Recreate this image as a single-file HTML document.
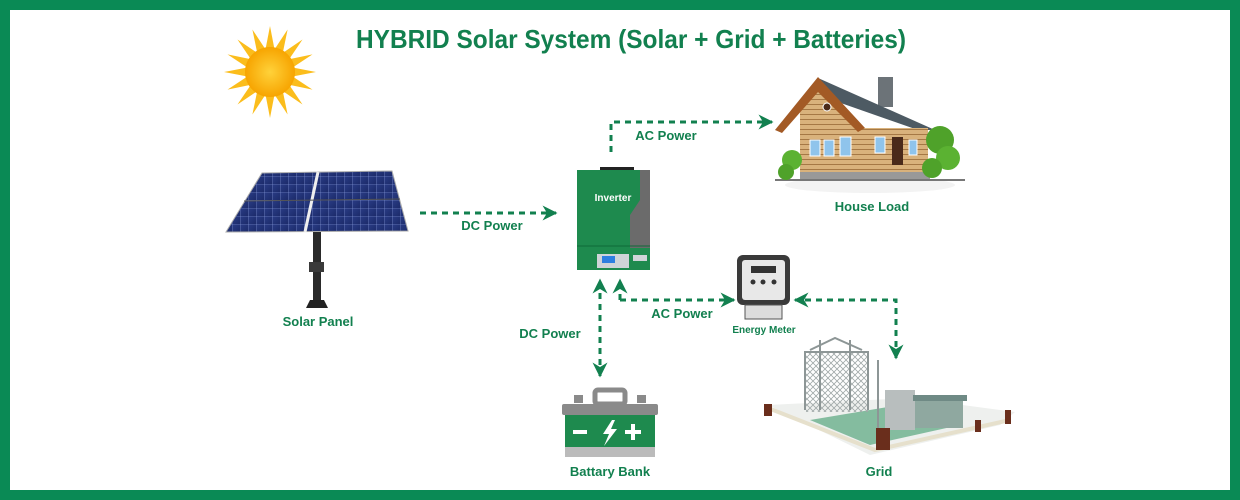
<!DOCTYPE html>
<html><head><meta charset="utf-8"><style>
html,body{margin:0;padding:0;background:#fff}
svg{display:block}
text{font-family:"Liberation Sans",sans-serif;font-weight:bold;fill:#12804f}
</style></head><body>
<svg width="1240" height="500" viewBox="0 0 1240 500" xmlns="http://www.w3.org/2000/svg">
<defs>
<marker id="ah" viewBox="0 0 10 10" refX="9" refY="5" markerWidth="5" markerHeight="5" orient="auto-start-reverse"><path d="M0,0 L10,5 L0,10 L3,5z" fill="#12804f"/></marker>
<radialGradient id="sun"><stop offset="0" stop-color="#ffd23a"/><stop offset="1" stop-color="#f7a400"/></radialGradient>
<linearGradient id="pv" x1="0" y1="0" x2="1" y2="1"><stop offset="0" stop-color="#2a3c86"/><stop offset="1" stop-color="#1c2b6a"/></linearGradient>
<pattern id="grid" width="8" height="8" patternUnits="userSpaceOnUse"><rect width="8" height="8" fill="url(#pv)"/><path d="M0,0H8M0,0V8" stroke="#8fa0d8" stroke-width="0.6"/></pattern>
<pattern id="wood" width="6" height="5" patternUnits="userSpaceOnUse"><rect width="6" height="5" fill="#d9b27c"/><path d="M0,4.5H6" stroke="#a57845" stroke-width="1"/></pattern>
<pattern id="lat" width="6" height="6" patternUnits="userSpaceOnUse"><path d="M0,0L6,6M6,0L0,6" stroke="#a0a8a8" stroke-width="0.8"/></pattern>
</defs>
<rect x="0" y="0" width="1240" height="500" fill="#0a8a55"/>
<rect x="10" y="10" width="1220" height="480" fill="#fff"/>
<text x="356" y="48" font-size="26" textLength="550" lengthAdjust="spacingAndGlyphs">HYBRID Solar System (Solar + Grid + Batteries)</text>

<!-- sun -->
<g transform="translate(270,72)">
<g fill="#fbbd1c">
<polygon points="0,-46 5,-20 -5,-20"/><polygon points="0,46 5,20 -5,20"/><polygon points="-46,0 -20,5 -20,-5"/><polygon points="46,0 20,5 20,-5"/>
<polygon points="0,-46 5,-20 -5,-20" transform="rotate(22.5)"/><polygon points="0,-46 5,-20 -5,-20" transform="rotate(45)"/><polygon points="0,-46 5,-20 -5,-20" transform="rotate(67.5)"/><polygon points="0,-46 5,-20 -5,-20" transform="rotate(112.5)"/><polygon points="0,-46 5,-20 -5,-20" transform="rotate(135)"/><polygon points="0,-46 5,-20 -5,-20" transform="rotate(157.5)"/><polygon points="0,-46 5,-20 -5,-20" transform="rotate(202.5)"/><polygon points="0,-46 5,-20 -5,-20" transform="rotate(225)"/><polygon points="0,-46 5,-20 -5,-20" transform="rotate(247.5)"/><polygon points="0,-46 5,-20 -5,-20" transform="rotate(292.5)"/><polygon points="0,-46 5,-20 -5,-20" transform="rotate(315)"/><polygon points="0,-46 5,-20 -5,-20" transform="rotate(337.5)"/>
</g>
<circle r="25" fill="url(#sun)"/>
</g>

<!-- solar panel -->
<rect x="313" y="232" width="8" height="72" fill="#2a2a2a"/>
<rect x="309" y="262" width="15" height="10" fill="#3a3a3a"/>
<polygon points="306,308 328,308 324,300 310,300" fill="#222"/>
<polygon points="226,232 262,173 392,171 408,231" fill="url(#grid)" stroke="#aaa" stroke-width="1"/>
<line x1="318" y1="172" x2="305" y2="232" stroke="#eee" stroke-width="3"/>
<line x1="244" y1="201" x2="400" y2="199" stroke="#555" stroke-width="1"/>
<text x="318" y="326" font-size="13" text-anchor="middle">Solar Panel</text>

<!-- inverter -->
<rect x="600" y="167" width="34" height="3" fill="#222"/>
<rect x="577" y="170" width="73" height="100" fill="#1e8a4e"/>
<polygon points="650,170 650,248 630,248 630,215 640,200 640,170" fill="#6b6b6b"/>
<line x1="577" y1="246" x2="650" y2="246" stroke="#0f6a38" stroke-width="1"/>
<rect x="597" y="254" width="32" height="14" fill="#cfd4d8"/>
<rect x="602" y="256" width="13" height="7" fill="#2d7fe0"/>
<rect x="633" y="255" width="14" height="6" fill="#cfd4d8"/>
<text x="613" y="201" font-size="10" text-anchor="middle" style="fill:#fff">Inverter</text>

<!-- house -->
<g>
<ellipse cx="870" cy="185" rx="85" ry="8" fill="#f3f3f3"/>
<rect x="878" y="77" width="15" height="30" fill="#6c7378"/>
<polygon points="818,78 935,130 918,130 818,95" fill="#4d5a63"/>
<polygon points="858,128 928,128 928,172 858,172" fill="url(#wood)"/>
<polygon points="800,108 818,90 860,128 860,172 800,172" fill="url(#wood)"/>
<polygon points="775,130 818,77 865,128 858,132 818,92 782,133" fill="#a35a25"/>
<rect x="800" y="172" width="130" height="7" fill="#999"/>
<line x1="775" y1="180" x2="965" y2="180" stroke="#777" stroke-width="2"/>
<rect x="810" y="140" width="10" height="16" fill="#8fc4ec" stroke="#fff"/>
<rect x="824" y="140" width="10" height="16" fill="#8fc4ec" stroke="#fff"/>
<rect x="840" y="137" width="11" height="19" fill="#8fc4ec" stroke="#fff"/>
<rect x="875" y="137" width="10" height="16" fill="#8fc4ec" stroke="#fff"/>
<rect x="892" y="137" width="11" height="28" fill="#4a2a1a"/>
<rect x="909" y="140" width="8" height="15" fill="#8fc4ec" stroke="#fff"/>
<circle cx="827" cy="107" r="4" fill="#4a2a1a" stroke="#fff"/>
<circle cx="940" cy="140" r="14" fill="#4fa22a"/><circle cx="948" cy="158" r="12" fill="#5bb232"/><circle cx="932" cy="168" r="10" fill="#4fa22a"/>
<circle cx="792" cy="160" r="10" fill="#5bb232"/><circle cx="786" cy="172" r="8" fill="#4fa22a"/>
</g>
<text x="872" y="211" font-size="13" text-anchor="middle">House Load</text>

<!-- meter -->
<rect x="737" y="255" width="53" height="50" rx="6" fill="#3a3a3a"/>
<rect x="742" y="260" width="43" height="40" rx="3" fill="#e8e8e8"/>
<rect x="751" y="266" width="25" height="7" fill="#333"/>
<circle cx="753" cy="282" r="2.5" fill="#333"/><circle cx="763" cy="282" r="2.5" fill="#333"/><circle cx="774" cy="282" r="2.5" fill="#333"/>
<rect x="745" y="305" width="37" height="14" fill="#ddd" stroke="#555"/>
<text x="764" y="333" font-size="10" text-anchor="middle">Energy Meter</text>

<!-- battery -->
<rect x="595" y="390" width="30" height="14" rx="3" fill="none" stroke="#8a8a8a" stroke-width="5"/>
<rect x="574" y="395" width="9" height="8" fill="#8a8a8a"/><rect x="637" y="395" width="9" height="8" fill="#8a8a8a"/>
<rect x="562" y="404" width="96" height="11" rx="2" fill="#8a8a8a"/>
<rect x="565" y="415" width="90" height="42" fill="#1e8a4e"/>
<rect x="565" y="447" width="90" height="10" fill="#bbb"/>
<rect x="573" y="430" width="14" height="4" fill="#fff"/>
<rect x="625" y="430" width="16" height="4" fill="#fff"/><rect x="631" y="424" width="4" height="16" fill="#fff"/>
<polygon points="612,420 603,434 609,434 604,446 617,429 611,429 615,420" fill="#fff"/>
<text x="610" y="476" font-size="13" text-anchor="middle">Battary Bank</text>

<!-- grid -->
<g>
<polygon points="768,405 870,455 1000,425 1015,412 910,398" fill="#eef0ee"/>
<polygon points="810,420 870,445 960,425 900,405" fill="#3e9a6a" opacity="0.6"/>
<rect x="806" y="352" width="62" height="60" fill="url(#lat)"/>
<g stroke="#8d9696" stroke-width="2" fill="none">
<path d="M805,410 V352 H868 V410 M810,350 L835,338 L862,350 M820,340 V410 M850,340 V410 M878,360 V430"/>
</g>
<rect x="885" y="390" width="30" height="40" fill="#b8bebe"/>
<rect x="915" y="398" width="48" height="30" fill="#8fa8a0"/>
<rect x="913" y="395" width="54" height="6" fill="#6f8a85"/>
<polyline points="768,408 875,450 1010,420" fill="none" stroke="#e6e0cc" stroke-width="4"/>
<rect x="876" y="428" width="14" height="22" fill="#6a2e1c"/>
<rect x="764" y="404" width="8" height="12" fill="#6a2e1c"/>
<rect x="975" y="420" width="6" height="12" fill="#6a2e1c"/>
<rect x="1005" y="410" width="6" height="14" fill="#6a2e1c"/>
</g>
<text x="879" y="476" font-size="13" text-anchor="middle">Grid</text>

<!-- connectors -->
<g stroke="#12804f" stroke-width="3" stroke-dasharray="6,5" fill="none">
<path d="M420,213 H556" marker-end="url(#ah)"/>
<path d="M611,152 V122 H772" marker-end="url(#ah)"/>
<path d="M600,376 V280" marker-end="url(#ah)" marker-start="url(#ah)"/>
<path d="M620,300 V280" marker-end="url(#ah)"/>
<path d="M620,300 H734" marker-end="url(#ah)"/>
<path d="M896,358 V300 H795" marker-end="url(#ah)" marker-start="url(#ah)"/>
</g>
<text x="492" y="230" font-size="13" text-anchor="middle">DC Power</text>
<text x="666" y="140" font-size="13" text-anchor="middle">AC Power</text>
<text x="682" y="318" font-size="13" text-anchor="middle">AC Power</text>
<text x="550" y="338" font-size="13" text-anchor="middle">DC Power</text>
</svg>
</body></html>
